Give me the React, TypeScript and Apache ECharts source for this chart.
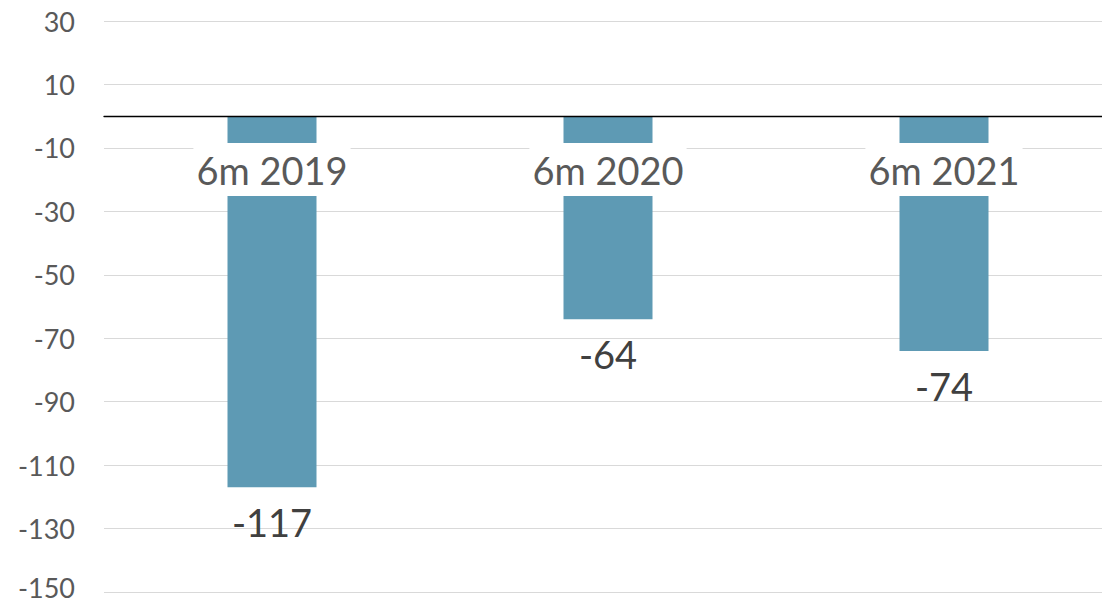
import React, { useEffect, useRef } from "react";
import * as echarts from "echarts";

const categories = ["6m 2019", "6m 2020", "6m 2021"];
const values = [-117, -64, -74];
const yTickLabels = [30, 10, -10, -30, -50, -70, -90, -110, -130, -150];

export default function App() {
  const ref = useRef<HTMLDivElement>(null);
  useEffect(() => {
    if (!ref.current) return;
    const chart = echarts.init(ref.current, undefined, { renderer: "svg" });
    const minTick = Math.min(...yTickLabels);
    chart.setOption({
      animation: false,
      textStyle: { fontFamily: "Lato" },
      grid: { left: 104, width: 1008, top: 21, height: 571, outerBoundsMode: "none", containLabel: false },
      xAxis: [
        {
          type: "category",
          data: categories,
          z: 10,
          axisLine: { show: true, onZero: true, lineStyle: { color: "#000", width: 1.3 } },
          axisTick: { show: false },
          axisLabel: { show: false },
        },
        {
          type: "category",
          data: categories,
          position: "top",
          z: 10,
          axisLine: { show: false, onZero: false },
          axisTick: { show: false },
          axisLabel: {
            inside: true,
            fontSize: 38,
            fontFamily: "Lato",
            color: "#595959",
            margin: 122,
            lineHeight: 45,
            backgroundColor: "#fff",
            padding: [4, 3],
          },
        },
      ],
      yAxis: {
        type: "value",
        min: -150,
        max: 30,
        interval: 10,
        axisLine: { show: false },
        axisTick: { show: false },
        splitLine: {
          show: true,
          lineStyle: { color: ["#d9d9d9", "rgba(0,0,0,0)"], width: 1 },
        },
        axisLabel: {
          fontSize: 27,
          fontFamily: "Lato",
          color: "#595959",
          margin: 29,
          formatter: (v: number) =>
            yTickLabels.includes(v) ? (v === minTick ? "{m|" + v + "}" : String(v)) : "",
          rich: {
            m: {
              fontSize: 27,
              fontFamily: "Lato",
              color: "#595959",
              lineHeight: 32,
              padding: [0, 0, 10, 0],
            },
          },
        },
      },
      series: [
        {
          type: "bar",
          data: values,
          xAxisIndex: 0,
          barWidth: 89,
          itemStyle: { color: "#5e9ab4" },
          label: {
            show: true,
            position: "bottom",
            distance: 16,
            fontSize: 38,
            fontFamily: "Lato",
            color: "#404040",
          },
        },
      ],
    });
    return () => chart.dispose();
  }, []);
  return (
    <div
      ref={ref}
      style={{ position: "absolute", left: 0, top: 0, width: 1102, height: 605 }}
    />
  );
}
